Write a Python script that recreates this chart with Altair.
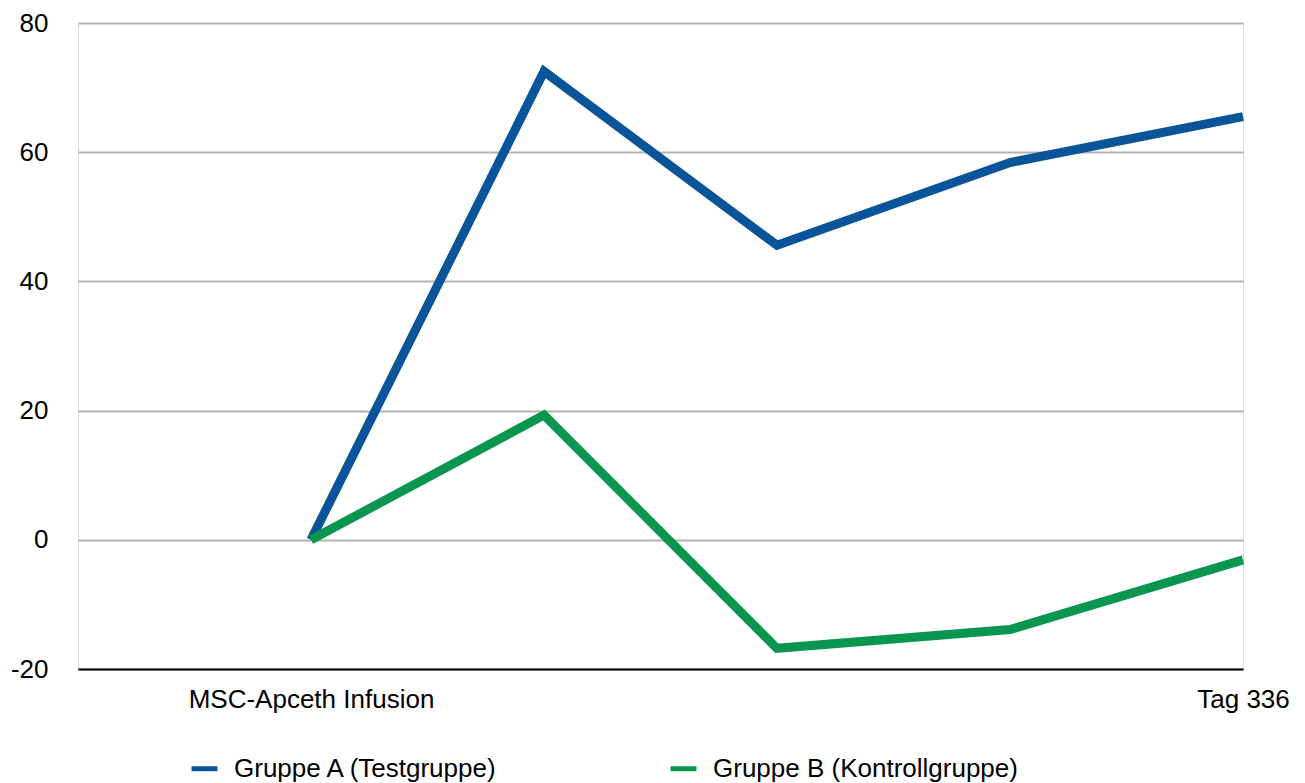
import altair as alt
import pandas as pd

x_pos = [1, 2, 3, 4, 5]
x_labels = {1: "MSC-Apceth Infusion", 5: "Tag 336"}
gruppe_a = [0, 72.5, 45.6, 58.4, 65.5]
gruppe_b = [0, 19.3, -16.8, -13.9, -3.1]
series = ["Gruppe A (Testgruppe)", "Gruppe B (Kontrollgruppe)"]
colors = ["#0a5499", "#0a9650"]

rows = []
for name, vals in zip(series, [gruppe_a, gruppe_b]):
    for xp, v in zip(x_pos, vals):
        rows.append({"x": xp, "y": v, "Gruppe": name})
df = pd.DataFrame(rows)

label_expr = "datum.value == 1 ? '" + x_labels[1] + "' : (datum.value == 5 ? '" + x_labels[5] + "' : '')"
y_label_expr = "datum.value < 0 ? '-' + abs(datum.value) : '' + datum.value"

FONT = "Liberation Sans"
FS = 26

chart = alt.Chart(df).mark_line(strokeWidth=9, strokeJoin="miter", strokeCap="butt").encode(
    x=alt.X("x:Q", scale=alt.Scale(domain=[0, 5], nice=False, zero=False),
            axis=alt.Axis(title=None, values=[1, 5], labelExpr=label_expr, grid=False,
                          ticks=False, domain=True, domainColor="#000000", domainWidth=2,
                          labelFontSize=FS, labelFont=FONT, labelColor="#000000",
                          labelPadding=17, labelFlush=False, labelOverlap=False,
                          labelLimit=500)),
    y=alt.Y("y:Q", scale=alt.Scale(domain=[-20, 80], nice=False),
            axis=alt.Axis(title=None, values=[-20, 0, 20, 40, 60, 80], grid=True,
                          labelExpr=y_label_expr,
                          gridColor="#b3b3b3", gridWidth=2, domain=False, ticks=False,
                          labelFontSize=FS, labelFont=FONT, labelColor="#000000",
                          labelPadding=30)),
    color=alt.Color("Gruppe:N", scale=alt.Scale(domain=series, range=colors),
                    legend=alt.Legend(title=None, orient="none", legendX=111, legendY=730,
                                      direction="horizontal", symbolType="stroke",
                                      symbolStrokeWidth=5, symbolSize=676,
                                      labelFontSize=FS, labelFont=FONT, labelColor="#000000",
                                      labelOffset=14, columnPadding=161, labelLimit=500)),
).properties(
    width=1165, height=646,
    autosize=alt.AutoSizeParams(type="none"),
    padding={"left": 78, "top": 23, "right": 62, "bottom": 114},
).configure_view(stroke=None).configure(background="#ffffff")

chart.save("out.html", embed_options={"renderer": "svg", "actions": False})
